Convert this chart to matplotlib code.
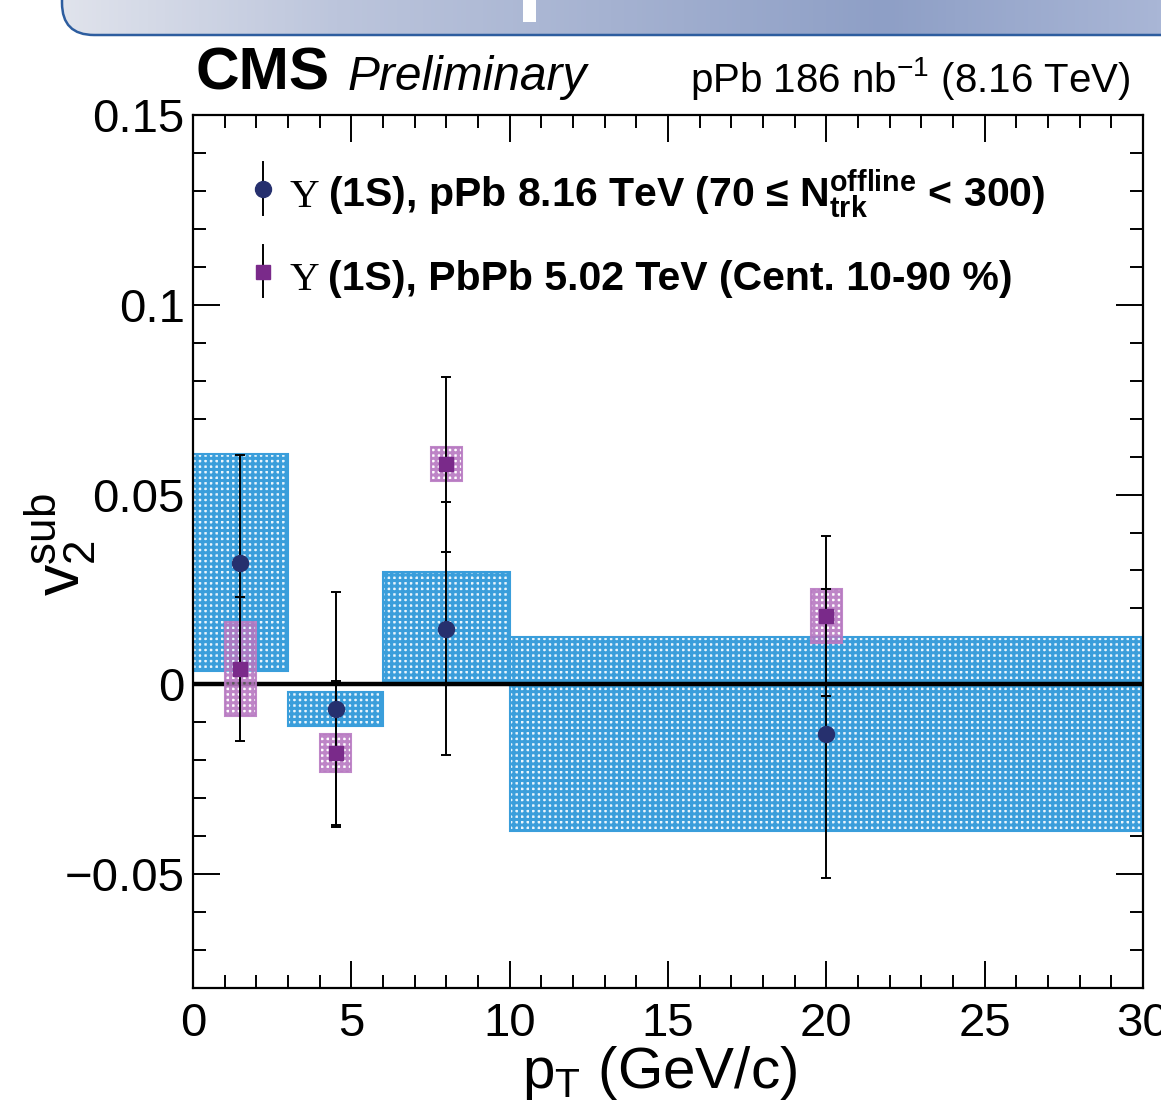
import numpy as np
import matplotlib
matplotlib.use("Agg")
import matplotlib.pyplot as plt
from matplotlib.patches import Rectangle, FancyBboxPatch
from matplotlib.colors import LinearSegmentedColormap

plt.rcParams['font.family'] = ['Liberation Sans', 'DejaVu Sans']
plt.rcParams['mathtext.fontset'] = 'custom'
plt.rcParams['mathtext.rm'] = 'Liberation Sans'
plt.rcParams['mathtext.it'] = 'Liberation Sans:italic'
plt.rcParams['mathtext.bf'] = 'Liberation Sans:bold'

# ---------------- data ----------------
pt = [1.5, 4.5, 8.0, 20.0]
ppb_v2 = [0.0321, -0.0066, 0.0147, -0.013]
ppb_stat = [0.0284, 0.031, 0.0333, 0.038]
ppb_syst = [0.0287, 0.0045, 0.0148, 0.0256]
ppb_bin_lo = [0.0, 3.0, 6.0, 10.0]
ppb_bin_hi = [3.0, 6.0, 10.0, 30.0]

pbpb_v2 = [0.004, -0.018, 0.058, 0.018]
pbpb_stat = [0.019, 0.019, 0.023, 0.021]
pbpb_syst = [0.0124, 0.005, 0.0044, 0.0072]
pbpb_box_halfwidth = 0.5

xticks = [0, 5, 10, 15, 20, 25, 30]
xtick_labels = ['0', '5', '10', '15', '20', '25', '30']
yticks = [-0.05, 0.0, 0.05, 0.1, 0.15]
ytick_labels = ['\u22120.05', '0', '0.05', '0.1', '0.15']

label_ppb_sym = '\u03a5'
label_ppb = '(1S), pPb 8.16 TeV (70 \u2264 $\\mathbf{N}_{\\mathbf{trk}}^{\\mathbf{offline}}$ < 300)'
label_pbpb = '(1S), PbPb 5.02 TeV (Cent. 10-90 %)'

# ---------------- figure ----------------
W, H = 1161, 1106
fig = plt.figure(figsize=(W / 100, H / 100), dpi=100)

# slide banner at top
bax = fig.add_axes([0, 1 - 42 / H, 1, 42 / H])
bax.set_xlim(0, W)
bax.set_ylim(42, 0)
bax.axis('off')
grad_cmap = LinearSegmentedColormap.from_list(
    'ban', [(0.0, '#e0e3ec'), (0.25, '#bcc5dc'), (0.75, '#8e9fc6'), (1.0, '#a9b6d6')])
grad = np.linspace(0, 1, 256)[None, :]
im = bax.imshow(grad, cmap=grad_cmap, aspect='auto', extent=[62, W, 35, -10])
clip = FancyBboxPatch((62, -80), W + 100, 115, boxstyle='round,pad=0,rounding_size=32',
                      transform=bax.transData, facecolor='none', edgecolor='#2d5d9f', lw=1.8)
bax.add_patch(clip)
im.set_clip_path(clip)
bax.add_patch(Rectangle((523, -5), 13, 27, facecolor='white', edgecolor='none', zorder=5))

ax = fig.add_axes([193 / W, 1 - 988 / H, 950 / W, 873 / H])
ax.set_xlim(0, 30)
ax.set_ylim(-0.08, 0.15)

# pPb systematic boxes
plt.rcParams['hatch.linewidth'] = 2.2
for lo, hi, v, s in zip(ppb_bin_lo, ppb_bin_hi, ppb_v2, ppb_syst):
    ax.add_patch(Rectangle((lo, v - s), hi - lo, 2 * s, facecolor='#eaf5fc',
                           edgecolor='#3a9edb', hatch='+++', lw=0, zorder=2))
    ax.add_patch(Rectangle((lo, v - s), hi - lo, 2 * s, facecolor='none',
                           edgecolor='#3a9edb', lw=1.5, zorder=2))

# zero line
ax.plot([0, 30], [0, 0], color='black', lw=3.2, zorder=3)

# PbPb systematic boxes
for x, v, s in zip(pt, pbpb_v2, pbpb_syst):
    ax.add_patch(Rectangle((x - pbpb_box_halfwidth, v - s), 2 * pbpb_box_halfwidth, 2 * s,
                           facecolor=(1, 1, 1, 0.35), edgecolor=(0.70, 0.44, 0.74, 0.85),
                           hatch='+++', lw=0, zorder=4))
    ax.add_patch(Rectangle((x - pbpb_box_halfwidth, v - s), 2 * pbpb_box_halfwidth, 2 * s,
                           facecolor='none', edgecolor=(0.72, 0.48, 0.76, 0.9), lw=1.5, zorder=4))

# error bars and points
ax.errorbar(pt, pbpb_v2, yerr=pbpb_stat, fmt='none', ecolor='black', elinewidth=1.4,
            capsize=3.5, capthick=1.4, zorder=5)
ax.errorbar(pt, ppb_v2, yerr=ppb_stat, fmt='none', ecolor='black', elinewidth=1.4,
            capsize=3.5, capthick=1.4, zorder=5)
ax.plot(pt, ppb_v2, 'o', color='#26306e', ms=11.5, mec='#26306e', zorder=6)
ax.plot(pt, pbpb_v2, 's', color='#7a2a8a', ms=10.5, mec='#7a2a8a', zorder=6)

# axes styling
ax.set_xticks(xticks)
ax.set_xticklabels(xtick_labels)
ax.set_yticks(yticks)
ax.set_yticklabels(ytick_labels)
ax.set_xticks(np.arange(0, 31, 1), minor=True)
ax.set_yticks(np.arange(-0.08, 0.1501, 0.01), minor=True)
ax.tick_params(which='both', direction='in', top=True, right=True, width=1.4,
               labelsize=34, color='black')
ax.tick_params(which='major', length=19.5)
ax.tick_params(which='minor', length=9.5)
ax.tick_params(axis='x', pad=10)
ax.tick_params(axis='y', pad=6)
for sp in ax.spines.values():
    sp.set_linewidth(1.6)

# legend (manual)
for yl, mk, col, ms in [(0.915, 'o', '#26306e', 11.5), (0.820, 's', '#7a2a8a', 10.5)]:
    ax.plot([0.0737, 0.0737], [yl - 0.029, yl + 0.031], color='black', lw=1.4,
            transform=ax.transAxes, clip_on=False, zorder=7)
    ax.plot([0.0737], [yl], mk, color=col, ms=ms, transform=ax.transAxes, clip_on=False, zorder=8)
ax.text(0.102, 0.8946, label_ppb_sym, transform=ax.transAxes, fontsize=29.5,
        family=['Liberation Serif', 'DejaVu Serif'], va='baseline', ha='left')
ax.text(0.142, 0.8946, label_ppb, transform=ax.transAxes, fontsize=29.5, fontweight='bold',
        va='baseline', ha='left')
ax.text(0.102, 0.7995, label_ppb_sym, transform=ax.transAxes, fontsize=29.5,
        family=['Liberation Serif', 'DejaVu Serif'], va='baseline', ha='left')
ax.text(0.142, 0.7995, label_pbpb, transform=ax.transAxes, fontsize=29.5, fontweight='bold',
        va='baseline', ha='left')

# titles
fig.text(195 / W, 1 - 90 / H, 'CMS', fontsize=43.5, fontweight='bold', va='baseline', ha='left')
fig.text(348 / W, 1 - 90 / H, 'Preliminary', fontsize=34.5, style='italic', va='baseline', ha='left')
fig.text(1130 / W, 1 - 92 / H, 'pPb 186 nb$^{\\mathregular{-1}}$ (8.16 TeV)', fontsize=29,
         va='baseline', ha='right')

# axis titles
fig.text(797 / W, 1 - 1088 / H, 'p$_{\\mathregular{T}}$ (GeV/c)', fontsize=42, va='baseline', ha='right')
fig.text(60 / W, 1 - 545 / H, '$\\mathregular{v_{2}^{sub}}$', fontsize=45, rotation=90,
         va='center', ha='center')

fig.savefig('out.png', dpi=100)
